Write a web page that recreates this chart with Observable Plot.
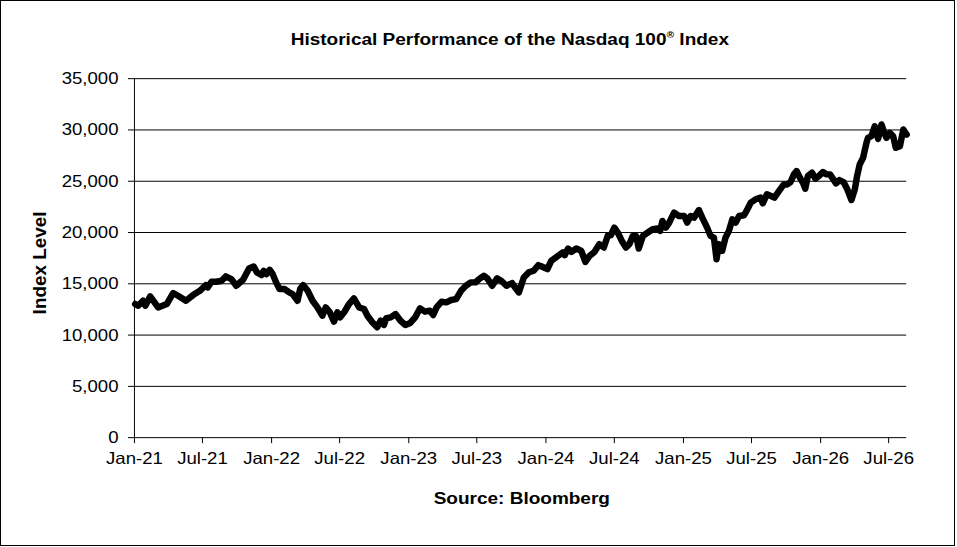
<!DOCTYPE html>
<html>
<head>
<meta charset="utf-8">
<script src="https://cdn.jsdelivr.net/npm/d3@7"></script>
<script src="https://cdn.jsdelivr.net/npm/@observablehq/plot@0.6"></script>
<style>
  html, body { margin: 0; padding: 0; background: #fff; }
  #frame { position: relative; width: 955px; height: 546px; border: 1px solid #000; box-sizing: border-box; overflow: hidden; }
  #frame svg { position: absolute; left: -1px; top: -1px; }
</style>
</head>
<body>
<div id="frame"></div>
<script>
const dates = [
"2021-01-03","2021-01-11","2021-01-24","2021-01-30","2021-02-12","2021-03-05","2021-03-28","2021-04-14","2021-04-27","2021-05-18","2021-06-06","2021-06-24","2021-07-10","2021-07-15","2021-07-25","2021-08-07","2021-08-21","2021-09-01","2021-09-16","2021-09-29","2021-10-17","2021-11-02","2021-11-14","2021-11-23","2021-12-05","2021-12-11","2021-12-18","2021-12-27",
"2022-01-04","2022-01-13","2022-01-22","2022-02-04","2022-02-17","2022-02-26","2022-03-11","2022-03-18","2022-03-26","2022-04-07","2022-04-20","2022-05-03","2022-05-16","2022-05-25","2022-06-05","2022-06-16","2022-06-25","2022-07-02","2022-07-13","2022-07-26","2022-08-08","2022-08-22","2022-09-04","2022-09-13","2022-09-26","2022-10-09","2022-10-18","2022-10-27","2022-11-02","2022-11-14","2022-11-27","2022-12-10","2022-12-23",
"2023-01-05","2023-01-18","2023-01-31","2023-02-13","2023-02-26","2023-03-07","2023-03-16","2023-03-29","2023-04-11","2023-04-24","2023-05-07","2023-05-20","2023-06-02","2023-06-15","2023-06-28","2023-07-07","2023-07-20","2023-07-29","2023-08-11","2023-08-24","2023-09-04","2023-09-18","2023-10-03","2023-10-14","2023-10-21","2023-11-03","2023-11-16","2023-11-29","2023-12-12","2023-12-21",
"2024-01-05","2024-01-15","2024-02-02","2024-02-15","2024-02-20","2024-02-29","2024-03-09","2024-03-22","2024-04-04","2024-04-15","2024-04-26","2024-05-09","2024-05-22","2024-06-03","2024-06-14","2024-06-22","2024-07-01","2024-07-10","2024-07-21","2024-08-01","2024-08-10","2024-08-19","2024-08-28","2024-09-04","2024-09-15","2024-09-28","2024-10-11","2024-10-24","2024-10-31","2024-11-06","2024-11-15","2024-11-24","2024-12-07","2024-12-20",
"2025-01-03","2025-01-11","2025-01-20","2025-01-29","2025-02-11","2025-02-20","2025-03-05","2025-03-14","2025-03-23","2025-03-30","2025-04-05","2025-04-14","2025-04-23","2025-05-02","2025-05-11","2025-05-20","2025-05-29","2025-06-11","2025-06-20","2025-06-29","2025-07-12","2025-07-25","2025-07-31","2025-08-11","2025-08-22","2025-08-31","2025-09-12","2025-09-25","2025-10-04","2025-10-13","2025-10-22","2025-10-29","2025-11-07","2025-11-15","2025-11-21","2025-11-28","2025-12-09","2025-12-18","2025-12-27",
"2026-01-07","2026-01-17","2026-01-26","2026-02-04","2026-02-11","2026-02-20","2026-03-03","2026-03-13","2026-03-24","2026-04-02","2026-04-08","2026-04-15","2026-04-24","2026-05-03","2026-05-07","2026-05-16","2026-05-25","2026-06-03","2026-06-12","2026-06-18","2026-06-25","2026-07-04","2026-07-13","2026-07-20","2026-07-31","2026-08-09","2026-08-18"
];
const values = [
13030,12860,13350,12860,13775,12700,13030,14100,13835,13350,13900,14320,14875,14650,15200,15200,15300,15720,15460,14810,15390,16500,16690,16110,15850,16270,15940,16360,
15940,15140,14490,14490,14160,14000,13350,14490,14875,14320,13350,12700,11890,12700,12220,11310,12220,11730,12220,13030,13580,12700,12540,11890,11250,10760,11400,10990,11640,11730,12050,11400,10990,
11180,11730,12610,12280,12380,11960,12700,13250,13190,13420,13510,14320,14810,15140,15140,15460,15780,15530,14810,15530,15300,14810,15070,14490,14160,15620,16110,16270,16820,16690,
16430,17240,17720,18050,17790,18440,18110,18440,18210,17140,17720,18110,18860,18540,19740,19740,20480,20000,19180,18540,18860,19670,19670,18440,19670,20000,20320,20390,20160,21130,20480,20970,21940,21610,
21610,20970,21610,21450,22190,21450,20480,19670,19510,17400,18860,18210,19510,20160,21290,20970,21610,21680,22260,22910,23240,23400,22850,23720,23560,23400,24040,24690,24690,24920,25670,25990,25340,24850,24270,25500,25830,25250,25500,
25890,25670,25670,25180,24790,25110,24920,24210,23170,24210,25500,26640,27290,28750,29230,29390,30360,29130,30530,29880,29230,29720,29390,28260,28420,30040,29560
];
const xTickLabels = ["Jan-21","Jul-21","Jan-22","Jul-22","Jan-23","Jul-23","Jan-24","Jul-24","Jan-25","Jul-25","Jan-26","Jul-26"];
const yTicks = [0,5000,10000,15000,20000,25000,30000,35000];
const xDomain = ["2021-01-01","2026-08-18"];

const parse = d3.utcParse("%Y-%m-%d");
const data = dates.map((d, i) => ({date: parse(d), value: values[i]}));
const xTicks = xTickLabels.map(s => d3.utcParse("%b-%y")(s));

const chart = Plot.plot({
  width: 957,
  height: 547,
  marginLeft: 134.5,
  marginRight: 47,
  marginTop: 78.5,
  marginBottom: 108,
  style: {fontFamily: "'Liberation Sans', Arial, sans-serif", fontSize: "17px", color: "#000", background: "transparent", overflow: "visible"},
  x: {type: "utc", domain: xDomain.map(parse), ticks: xTicks, tickFormat: d3.utcFormat("%b-%y"), tickSize: 6, tickPadding: 8, label: null},
  y: {domain: [0, 35000], ticks: yTicks, tickFormat: d3.format(","), tickSize: 6, tickPadding: 10, label: null},
  marks: [
    Plot.ruleY(yTicks, {stroke: "#000", strokeWidth: 1}),
    Plot.ruleX([parse(xDomain[0])], {stroke: "#000", strokeWidth: 1}),
    Plot.line(data, {x: "date", y: "value", stroke: "#000", strokeWidth: 6.5, strokeLinejoin: "round", strokeLinecap: "round"})
  ]
});

document.getElementById("frame").appendChild(chart);

chart.querySelectorAll('[aria-label="x-axis tick label"] text, [aria-label="y-axis tick label"] text').forEach(t => {
  const w = t.getComputedTextLength();
  t.setAttribute("textLength", (w * 1.1).toFixed(1));
  t.setAttribute("lengthAdjust", "spacingAndGlyphs");
});

const svg = d3.select(chart);
const title = svg.append("text")
  .attr("transform", "translate(512,45) scale(1.15,1)")
  .attr("text-anchor", "middle")
  .attr("font-weight", "bold")
  .attr("font-size", 16.6)
  .attr("fill", "#000");
title.append("tspan").text("Historical Performance of the Nasdaq 100");
title.append("tspan").attr("font-size", 9).attr("dy", -7).text("®");
title.append("tspan").attr("dy", 7).text(" Index");

svg.append("text")
  .attr("transform", "translate(46,264) rotate(-90)")
  .attr("text-anchor", "middle")
  .attr("font-weight", "bold")
  .attr("font-size", 19)
  .attr("fill", "#000")
  .text("Index Level");

svg.append("text")
  .attr("transform", "translate(524,506) scale(1.15,1)")
  .attr("text-anchor", "middle")
  .attr("font-weight", "bold")
  .attr("font-size", 16.6)
  .attr("fill", "#000")
  .text("Source: Bloomberg");
</script>
</body>
</html>
